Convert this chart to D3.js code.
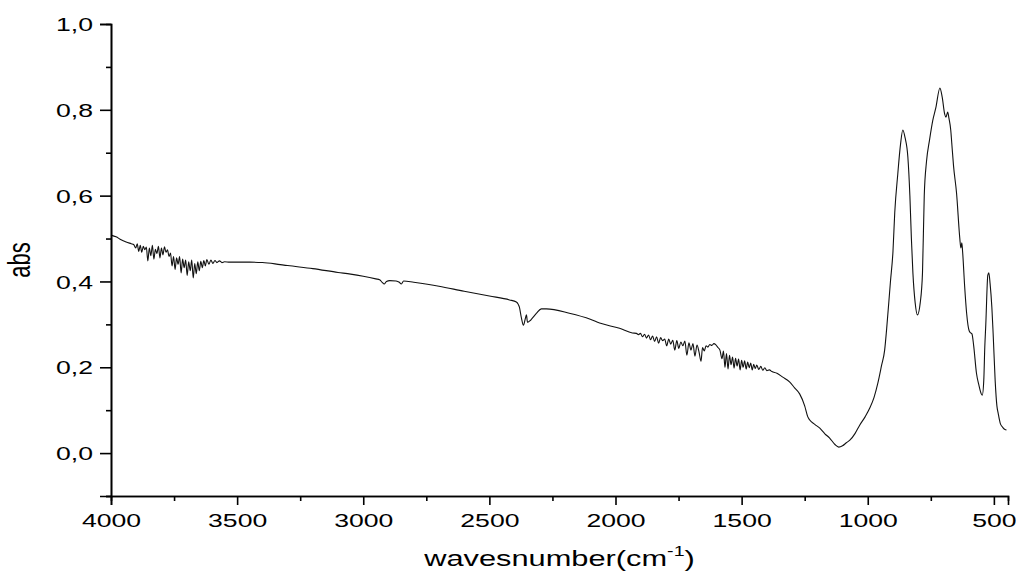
<!DOCTYPE html>
<html>
<head>
<meta charset="utf-8">
<script src="https://cdn.jsdelivr.net/npm/d3@7/dist/d3.min.js"></script>
<style>
  html, body { margin: 0; padding: 0; background: #fff; }
  svg text { font-family: "Liberation Sans", Arial, sans-serif; fill: #000; }
</style>
</head>
<body>
<svg id="chart" width="1016" height="573"></svg>
<script>
// FT-IR absorbance spectrum (wavenumber in cm-1, absorbance)
const wavenumbers = [
  4000, 3980, 3960, 3940, 3920, 3910,
  3902, 3896, 3890, 3884, 3878, 3872, 3866, 3860, 3854, 3848, 3842, 3836, 3830, 3824,
  3818, 3812, 3806, 3800, 3794, 3788, 3782, 3776, 3770, 3764, 3758, 3752, 3746, 3740,
  3734, 3728, 3722, 3716, 3710, 3704, 3698, 3692, 3686, 3680, 3674, 3668, 3662, 3656,
  3650, 3644, 3638, 3632, 3626, 3620, 3612, 3604, 3596, 3588, 3580, 3570, 3560, 3550,
  3530, 3500, 3450, 3400, 3350, 3300, 3200, 3100, 3050, 3000, 2950, 2935, 2925, 2917,
  2908, 2895, 2870, 2857, 2849, 2840, 2800, 2700, 2600, 2500, 2420, 2393, 2385, 2381,
  2373, 2365, 2358, 2353, 2349, 2340, 2333, 2313, 2294, 2274, 2183, 2100, 2063, 1984,
  1933, 1917,
  1909, 1901, 1893, 1885, 1877, 1869, 1861, 1853, 1845, 1837, 1829, 1821, 1813, 1805,
  1797, 1789, 1781, 1773, 1765, 1757, 1749, 1741, 1733, 1725, 1717, 1709, 1701, 1693,
  1685, 1677, 1669, 1661, 1655, 1648, 1641, 1634, 1626, 1618, 1610, 1602, 1594, 1586,
  1578, 1572, 1566, 1560, 1554, 1548, 1542, 1536, 1530, 1524, 1518, 1512, 1506, 1500,
  1494, 1488, 1482, 1476, 1470, 1464, 1458, 1452, 1446, 1440, 1432, 1424, 1416, 1408,
  1400, 1390, 1380,
  1360, 1337, 1310, 1290, 1270, 1250, 1238, 1230, 1210, 1190, 1170, 1151, 1130, 1115,
  1100, 1085, 1071, 1050, 1032, 1010, 992, 975, 960, 945, 933, 925, 910, 900,
  893, 881, 870, 861, 852, 841, 833, 827, 821, 812, 803, 792, 783, 776,
  767, 755, 742, 730, 714, 705, 695, 690, 683, 678, 671, 667, 660, 648,
  635, 631, 627, 624, 616, 608, 598, 592, 587, 580, 569, 560, 550, 546,
  540, 536, 532, 524, 520, 515, 508, 503, 495, 488, 483, 475, 465, 456, 450
];
const absorbance = [
  0.508, 0.504, 0.497, 0.492, 0.488, 0.486,
  0.478, 0.488, 0.470, 0.484, 0.468, 0.482, 0.474, 0.480, 0.448, 0.478, 0.460, 0.484, 0.452, 0.475,
  0.465, 0.482, 0.455, 0.478, 0.462, 0.481, 0.468, 0.474, 0.458, 0.466, 0.436, 0.458, 0.428, 0.455,
  0.440, 0.458, 0.420, 0.452, 0.432, 0.450, 0.414, 0.446, 0.425, 0.450, 0.408, 0.442, 0.418, 0.446,
  0.425, 0.447, 0.432, 0.449, 0.436, 0.451, 0.440, 0.450, 0.442, 0.449, 0.444, 0.448, 0.444, 0.446,
  0.445, 0.445, 0.445, 0.444, 0.441, 0.437, 0.430, 0.421, 0.417, 0.412, 0.406, 0.404, 0.398, 0.394,
  0.400, 0.402, 0.401, 0.398, 0.394, 0.401, 0.398, 0.389, 0.377, 0.366, 0.357, 0.352, 0.346, 0.340,
  0.315, 0.298, 0.312, 0.322, 0.305, 0.308, 0.312, 0.326, 0.336, 0.336, 0.326, 0.312, 0.303, 0.291,
  0.280, 0.279,
  0.276, 0.279, 0.271, 0.277, 0.268, 0.275, 0.264, 0.273, 0.260, 0.271, 0.256, 0.269, 0.262, 0.266,
  0.250, 0.266, 0.254, 0.263, 0.240, 0.262, 0.244, 0.259, 0.250, 0.261, 0.228, 0.257, 0.240, 0.255,
  0.226, 0.252, 0.236, 0.214, 0.246, 0.238, 0.250, 0.247, 0.253, 0.251, 0.255, 0.252, 0.246, 0.240,
  0.220, 0.238, 0.200, 0.232, 0.196, 0.228, 0.206, 0.224, 0.198, 0.221, 0.203, 0.219, 0.194, 0.216,
  0.200, 0.215, 0.196, 0.212, 0.199, 0.210, 0.194, 0.207, 0.197, 0.205, 0.195, 0.202, 0.193, 0.199,
  0.192, 0.194, 0.190,
  0.186, 0.177, 0.166, 0.152, 0.138, 0.110, 0.085, 0.077, 0.067, 0.058, 0.045, 0.035, 0.020, 0.014,
  0.017, 0.024, 0.030, 0.046, 0.065, 0.085, 0.105, 0.130, 0.163, 0.205, 0.240, 0.290, 0.400, 0.470,
  0.560, 0.650, 0.720, 0.753, 0.735, 0.690, 0.600, 0.500, 0.420, 0.350, 0.322, 0.350, 0.420, 0.600,
  0.680, 0.730, 0.776, 0.805, 0.851, 0.830, 0.790, 0.783, 0.795, 0.780, 0.753, 0.723, 0.670, 0.606,
  0.500, 0.478, 0.490, 0.470, 0.390, 0.326, 0.285, 0.280, 0.278, 0.250, 0.186, 0.160, 0.138, 0.135,
  0.170, 0.247, 0.300, 0.415, 0.420, 0.395, 0.340, 0.280, 0.170, 0.110, 0.093, 0.070, 0.060, 0.055, 0.054
];

const xMajorTicks = [4000, 3500, 3000, 2500, 2000, 1500, 1000, 500];
const xMinorTicks = [3750, 3250, 2750, 2250, 1750, 1250, 750];
const yMajorTicks = [0.0, 0.2, 0.4, 0.6, 0.8, 1.0];
const yMinorTicks = [-0.1, 0.1, 0.3, 0.5, 0.7, 0.9];

const xTitle = "wavesnumber(cm";
const xTitleSup = "-1";
const yTitle = "abs";

const svg = d3.select("#chart");
const margin = { left: 111, top: 24, right: 8, bottom: 77 };
const W = 1016, H = 573;
const stretch = 1.4;   // horizontal glyph stretch of the text

const x = d3.scaleLinear().domain([4000, 444]).range([margin.left, W - margin.right]);
const y = d3.scaleLinear().domain([-0.1, 1.0]).range([H - margin.bottom, margin.top]);

const fmt = d => d3.format(".1f")(d).replace(".", ",");

// spectrum
const pts = wavenumbers.map((w, i) => [w, absorbance[i]]);
const line = d3.line().x(d => x(d[0])).y(d => y(d[1])).curve(d3.curveMonotoneX);
svg.append("path")
  .attr("d", line(pts))
  .attr("fill", "none")
  .attr("stroke", "#111")
  .attr("stroke-width", 1.1)
  .attr("stroke-linejoin", "round");

// x axis
const gx = svg.append("g").attr("transform", `translate(0,${y(-0.1)})`);
gx.call(d3.axisBottom(x).tickValues(xMinorTicks).tickSize(5).tickFormat(""));
gx.call(g => g.append("g").call(d3.axisBottom(x).tickValues(xMajorTicks).tickSize(9).tickFormat(d3.format("d"))));
gx.selectAll(".domain").attr("stroke", "#000").attr("stroke-width", 1.6);
gx.selectAll(".tick line").attr("stroke", "#000").attr("stroke-width", 1.6);
gx.selectAll(".tick text")
  .attr("font-size", 19).attr("fill", "#000")
  .attr("y", 0)
  .attr("transform", `translate(0,31) scale(${stretch},1)`)
  .attr("dy", 0);

// y axis
const gy = svg.append("g").attr("transform", `translate(${x(4000)},0)`);
gy.call(d3.axisLeft(y).tickValues(yMinorTicks).tickSize(5).tickFormat(""));
gy.call(g => g.append("g").call(d3.axisLeft(y).tickValues(yMajorTicks).tickSize(11).tickFormat(fmt)));
gy.selectAll(".domain").attr("stroke", "#000").attr("stroke-width", 1.6);
gy.selectAll(".tick line").attr("stroke", "#000").attr("stroke-width", 1.6);
gy.selectAll(".tick text")
  .attr("font-size", 19).attr("fill", "#000")
  .attr("x", 0).attr("dy", "0.35em")
  .attr("text-anchor", "end")
  .attr("transform", `translate(-18,0) scale(${stretch},1)`);

// axis titles
const xt = svg.append("text")
  .attr("text-anchor", "middle")
  .attr("font-size", 22)
  .attr("transform", `translate(${(x(4000) + x(444)) / 2},566) scale(${stretch},1)`);
xt.append("tspan").text(xTitle);
xt.append("tspan").attr("font-size", 14).attr("dy", -10).text(xTitleSup);
xt.append("tspan").attr("dy", 10).text(")");

svg.append("text")
  .attr("text-anchor", "middle")
  .attr("font-size", 22)
  .attr("transform", `translate(30,${y(0.45)}) scale(${stretch},1) rotate(-90)`)
  .text(yTitle);
</script>
</body>
</html>
